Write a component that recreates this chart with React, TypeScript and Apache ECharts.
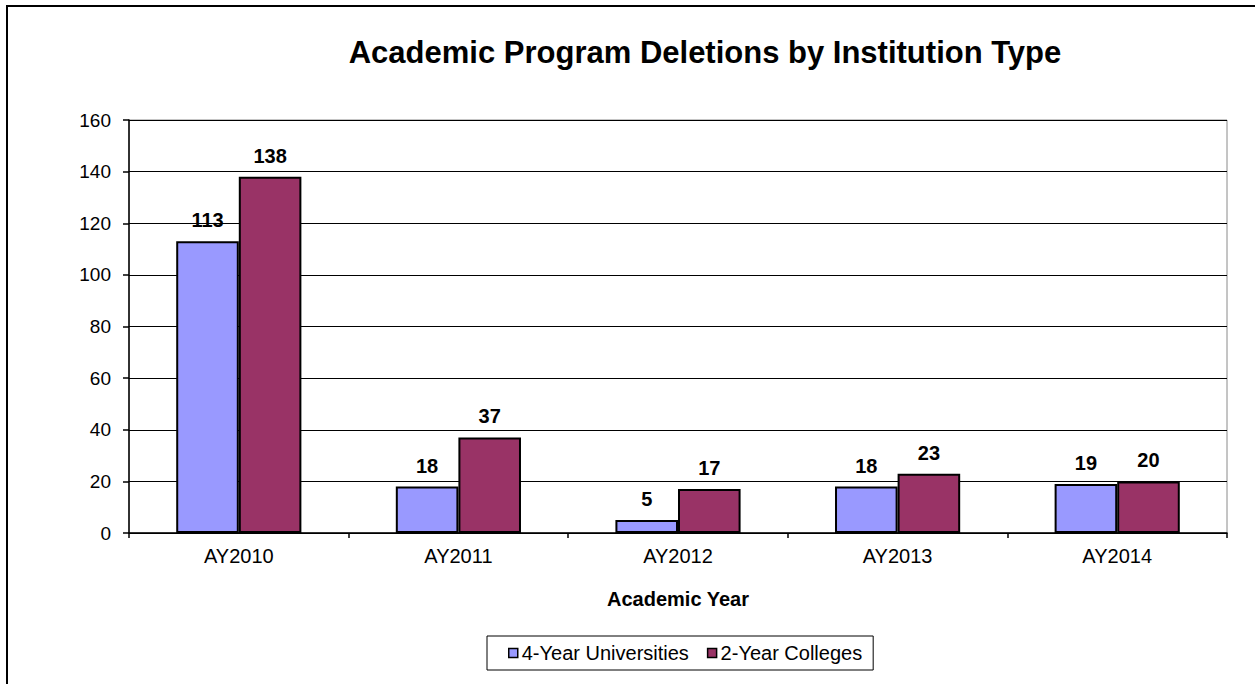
import React, { useEffect, useRef } from "react";
import * as echarts from "echarts";

const categories = ["AY2010", "AY2011", "AY2012", "AY2013", "AY2014"];
const fourYear = [113, 18, 5, 18, 19];
const twoYear = [138, 37, 17, 23, 20];
const seriesNames = ["4-Year Universities", "2-Year Colleges"];

const FONT = "Liberation Sans, Arial, sans-serif";

export default function App() {
  const ref = useRef<HTMLDivElement>(null);
  useEffect(() => {
    if (!ref.current) return;
    const chart = echarts.init(ref.current, null, { renderer: "svg" });
    const labelStyle = {
      show: true,
      position: "top" as const,
      distance: 11,
      fontFamily: FONT,
      fontWeight: "bold" as const,
      fontSize: 20,
      color: "#000",
    };
    chart.setOption({
      animation: false,
      backgroundColor: "#fff",
      textStyle: { fontFamily: FONT },
      title: {
        text: "Academic Program Deletions by Institution Type",
        left: 700,
        textAlign: "center",
        top: 32,
        textStyle: { fontFamily: FONT, fontWeight: "bold", fontSize: 31, color: "#000" },
      },
      graphic: [
        {
          type: "rect",
          shape: { x: 7, y: 6, width: 1400, height: 900 },
          style: { fill: "none", stroke: "#000", lineWidth: 2 },
          silent: true,
        },
      ],
      grid: {
        left: 129,
        right: 28,
        top: 120,
        bottom: 151,
        show: true,
        borderColor: "#8a8a8a",
        borderWidth: 1,
      },
      legend: {
        data: seriesNames,
        left: 487,
        top: 636,
        padding: [7, 11, 7, 21],
        itemGap: 18,
        itemWidth: 9,
        itemHeight: 9,
        icon: "rect",
        borderColor: "#000",
        borderWidth: 1,
        itemStyle: { borderColor: "#000", borderWidth: 1.5 },
        textStyle: { fontFamily: FONT, fontSize: 20, color: "#000", padding: [0, 0, 0, -1] },
      },
      xAxis: {
        type: "category",
        data: categories,
        name: "Academic Year",
        nameLocation: "middle",
        nameGap: 56,
        nameTextStyle: { fontFamily: FONT, fontWeight: "bold", fontSize: 20, color: "#000" },
        axisLine: { lineStyle: { color: "#000", width: 1.5 } },
        axisTick: { show: true, length: 5, lineStyle: { color: "#000", width: 1.5 } },
        axisLabel: { fontFamily: FONT, fontSize: 20, color: "#000", margin: 13 },
      },
      yAxis: {
        type: "value",
        min: 0,
        max: 160,
        interval: 20,
        axisLine: { show: true, lineStyle: { color: "#000", width: 1.5 } },
        axisTick: { show: true, length: 6, lineStyle: { color: "#000", width: 1.5 } },
        axisLabel: { fontFamily: FONT, fontSize: 19, color: "#000", margin: 18 },
        splitLine: { show: true, lineStyle: { color: "#000", width: 1 } },
      },
      series: [
        {
          name: seriesNames[0],
          type: "bar",
          data: fourYear,
          barGap: "0%",
          barCategoryGap: "43%",
          itemStyle: { color: "#9999FF", borderColor: "#000", borderWidth: 2 },
          label: labelStyle,
        },
        {
          name: seriesNames[1],
          type: "bar",
          data: twoYear,
          barGap: "0%",
          barCategoryGap: "43%",
          itemStyle: { color: "#993366", borderColor: "#000", borderWidth: 2 },
          label: labelStyle,
        },
      ],
    });
    return () => chart.dispose();
  }, []);
  return (
    <div
      ref={ref}
      style={{ position: "absolute", left: 0, top: 0, width: 1255, height: 684 }}
    />
  );
}
